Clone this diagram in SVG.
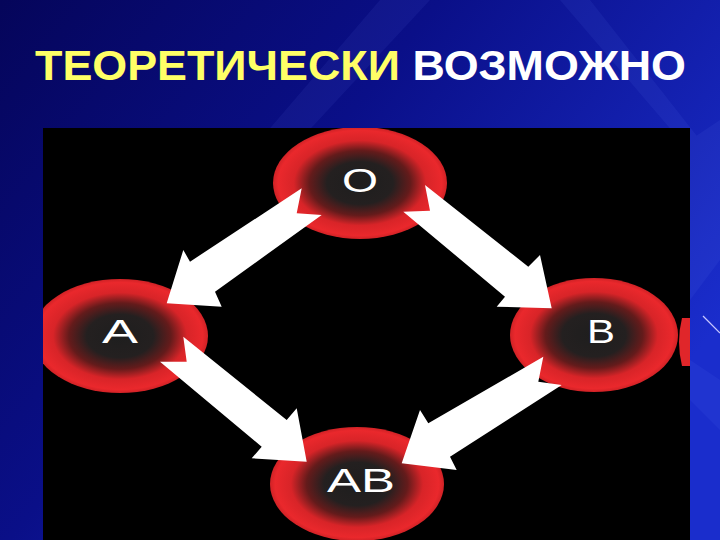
<svg xmlns="http://www.w3.org/2000/svg" width="720" height="540" viewBox="0 0 720 540">
  <defs>
    <linearGradient id="bg" x1="0" y1="0" x2="1" y2="0.6">
      <stop offset="0" stop-color="#05055a"/>
      <stop offset="0.45" stop-color="#0a0f88"/>
      <stop offset="1" stop-color="#1a2dcc"/>
    </linearGradient>
    <radialGradient id="blob" cx="0.5" cy="0.5" r="0.5">
      <stop offset="0" stop-color="#1e1e1e"/>
      <stop offset="0.38" stop-color="#242020"/>
      <stop offset="0.58" stop-color="#641b1b"/>
      <stop offset="0.76" stop-color="#d82428"/>
      <stop offset="0.94" stop-color="#ea282c"/>
      <stop offset="1" stop-color="#d02226"/>
    </radialGradient>
    <clipPath id="panel">
      <rect x="43" y="128" width="647" height="412"/>
    </clipPath>
    <style>
      .node ellipse { fill: url(#blob); }
      .lbl { font-family: "Liberation Sans", Arial, sans-serif; font-size: 33px; fill: #ffffff; text-anchor: middle; }
      .arrow { fill: #ffffff; }
      .title { font-family: "Liberation Sans", Arial, sans-serif; font-weight: bold; font-size: 43px; }
    </style>
  </defs>

  <rect width="720" height="540" fill="url(#bg)"/>
  <g opacity="0.08" fill="#6f8cff">
    <polygon points="380,0 430,0 300,140 260,140"/>
    <polygon points="560,0 590,0 700,140 680,140"/>
    <polygon points="690,140 720,120 720,260 690,300"/>
    <polygon points="690,360 720,380 720,430 690,400"/>
  </g>
  <line x1="703" y1="316" x2="720" y2="333" stroke="#c8c8ff" stroke-width="1.2"/>

  <text class="title" x="35" y="80" textLength="651" lengthAdjust="spacingAndGlyphs"><tspan fill="#ffff66">ТЕОРЕТИЧЕСКИ</tspan><tspan fill="#ffffff"> ВОЗМОЖНО</tspan></text>

  <rect x="43" y="128" width="647" height="412" fill="#000000"/>

  <g clip-path="url(#panel)">
    <path d="M682,318 Q676,342 682,366 L690,366 L690,318 Z" fill="#e0262a"/>
    <g id="node-O" class="node">
      <ellipse cx="360" cy="183" rx="87" ry="56"/>
      <text class="lbl" x="360" y="192" textLength="36" lengthAdjust="spacingAndGlyphs">O</text>
    </g>
    <g id="node-A" class="node">
      <ellipse cx="120" cy="336" rx="88" ry="57"/>
      <text class="lbl" x="120" y="343" textLength="36" lengthAdjust="spacingAndGlyphs">A</text>
    </g>
    <g id="node-B" class="node">
      <ellipse cx="594" cy="335" rx="84" ry="57"/>
      <text class="lbl" x="601" y="343" textLength="28" lengthAdjust="spacingAndGlyphs">B</text>
    </g>
    <g id="node-AB" class="node">
      <ellipse cx="357" cy="484" rx="87" ry="57"/>
      <text class="lbl" x="361" y="492" textLength="68" lengthAdjust="spacingAndGlyphs">AB</text>
    </g>
  </g>

  <g id="connectors">
    <polygon id="O-A" class="arrow" points="301.7,188.3 190,261.7 183.3,250 166.7,303.3 221.7,306.7 215,291.7 321.7,215 296.7,213.3"/>
    <polygon id="O-B" class="arrow" points="425,185 528.3,266.7 540,255 551.7,308.3 496.7,306.7 505,296.7 403.3,211.7 430,210.7"/>
    <polygon id="A-AB" class="arrow" points="183.3,336.7 286.7,420 296.7,408.3 306.7,461.7 251.7,458.3 261.7,446.7 160,361.7 186.7,361.7"/>
    <polygon id="B-AB" class="arrow" points="543.3,356.7 428.3,423.3 420,410 401.7,463.3 456.7,470 450,456.7 561.7,385 538.3,381.7"/>
  </g>
</svg>
